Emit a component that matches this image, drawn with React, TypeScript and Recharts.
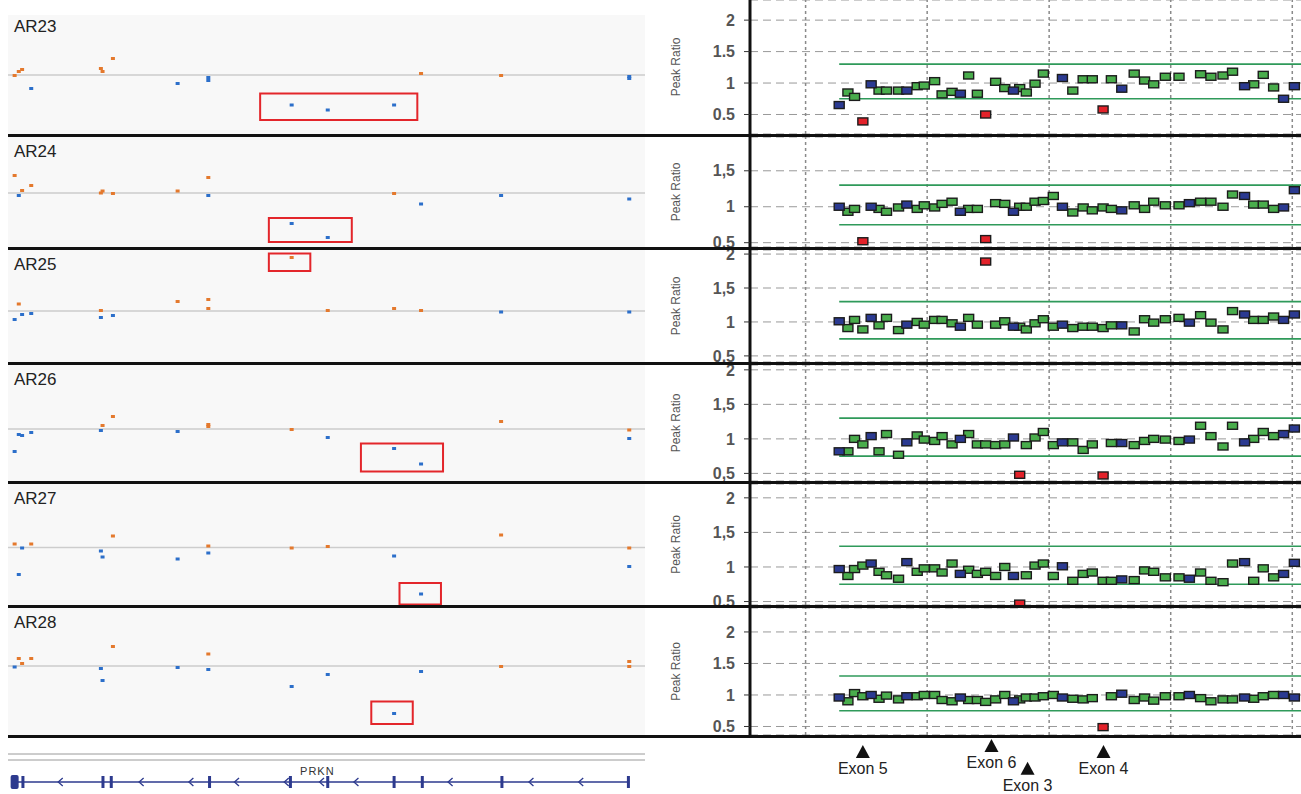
import React from "react";
import { ScatterChart, Scatter, XAxis, YAxis, CartesianGrid, ReferenceLine, ReferenceArea } from "recharts";

const samples = ["AR23", "AR24", "AR25", "AR26", "AR27", "AR28"];

// MLPA probes (position along the region, same frame for all samples)
const probePos = [456, 477, 493, 513, 533, 552, 570, 599, 619, 644, 661, 686, 704, 728, 748, 768, 789, 809, 833, 855, 876, 891, 907, 928, 948, 972, 994, 1019, 1044, 1066, 1092, 1112, 1137, 1167, 1192, 1214, 1242, 1275, 1300, 1327, 1352, 1381, 1404, 1433, 1455, 1478, 1503, 1527, 1553];
const refProbeIdx = [0, 4, 8, 14, 20, 26, 32, 38, 43, 47, 48];

const ratioAR23 = [0.65, 0.85, 0.78, 0.39, 0.98, 0.88, 0.88, 0.88, 0.88, 0.95, 0.96, 1.03, 0.82, 0.86, 0.83, 1.12, 0.83, 0.5, 1.02, 0.92, 0.88, 0.92, 0.85, 0.99, 1.15, null, 1.08, 0.88, 1.06, 1.06, 0.58, 1.06, 0.91, 1.15, 1.04, 0.98, 1.1, 1.1, null, 1.14, 1.1, 1.12, 1.18, 0.95, 0.98, 1.13, 0.93, 0.75, 0.95];
const ratioAR24 = [1.0, 0.93, 0.97, 0.52, 1.0, 0.97, 0.93, 0.99, 1.03, 0.97, 1.02, 0.99, 1.04, 1.07, 0.93, 0.97, 0.97, 0.55, 1.05, 1.04, 0.93, 1.0, 1.0, 1.07, 1.08, 1.15, 1.0, 0.92, 0.99, 0.95, 0.99, 0.97, 0.95, 1.02, 0.97, 1.07, 1.02, 1.02, 1.05, 1.07, 1.07, 1.0, 1.17, 1.15, 1.03, 1.03, 0.97, 0.99, 1.23];
const ratioAR25 = [1.01, 0.91, 1.03, 0.89, 1.06, 0.95, 1.06, 0.88, 0.96, 1.0, 0.96, 1.03, 1.03, 0.98, 0.93, 1.06, 0.96, 1.89, 0.96, 1.01, 0.93, 0.93, 0.89, 0.98, 1.04, 0.93, 0.96, 0.91, 0.93, 0.93, 0.91, 0.95, 0.95, 0.86, 1.04, 0.99, 1.04, 1.06, 0.99, 1.1, 0.99, 0.89, 1.16, 1.11, 1.03, 1.03, 1.08, 1.03, 1.11];
const ratioAR26 = [0.82, 0.82, 1.0, 0.92, 1.04, 0.82, 1.07, 0.77, 0.95, 1.05, 0.99, 0.97, 1.04, 0.92, 1.0, 1.07, 0.92, 0.92, 0.91, 0.92, 1.02, 0.48, 0.91, 1.02, 1.1, 0.91, 0.95, 0.95, 0.84, 0.92, 0.47, 0.94, 0.94, 0.91, 0.97, 1.0, 0.99, 0.97, 0.99, 1.19, 1.04, 0.89, 1.19, 0.95, 1.0, 1.1, 1.04, 1.07, 1.15];
const ratioAR27 = [0.97, 0.87, 0.97, 1.02, 1.05, 0.93, 0.88, 0.83, 1.07, 0.93, 0.98, 0.98, 0.92, 1.05, 0.9, 0.96, 0.9, 0.93, 0.87, 1.0, 0.87, 0.47, 0.88, 1.02, 1.05, 0.87, 1.01, 0.8, 0.9, 0.92, 0.8, 0.8, 0.82, 0.81, 0.95, 0.93, 0.85, 0.85, 0.83, 0.92, 0.8, 0.78, 1.05, 1.07, 0.8, 0.98, 0.85, 0.9, 1.06];
const ratioAR28 = [0.96, 0.9, 1.03, 0.98, 1.0, 0.94, 0.99, 0.93, 0.98, 0.98, 1.0, 1.0, 0.92, 0.9, 0.96, 0.92, 0.92, 0.89, 0.93, 1.0, 0.9, 0.93, 0.96, 0.96, 0.98, 1.0, 0.96, 0.94, 0.93, 0.95, 0.49, 0.98, 1.02, 0.92, 0.96, 0.91, 0.98, 0.98, 1.0, 0.95, 0.9, 0.93, 0.93, 0.96, 0.94, 0.98, 1.0, 1.0, 0.96];
const peakRatios = [ratioAR23, ratioAR24, ratioAR25, ratioAR26, ratioAR27, ratioAR28];

const ratioTicks = [0.5, 1, 1.5, 2];
const ratioGridX = [375, 668, 962, 1255, 1548];
const upperLimit = 1.3;
const lowerLimit = 0.75;
const callLow = 0.7;
const decimalSep = [".", ",", ",", ",", ",", "."];

// IGV copy-number points: [position, log ratio]
const gainAR23 = [[35, -0.01], [45, 0.07], [53, 0.11], [243, 0.13], [247, 0.07], [272, 0.33], [1015, 0.03], [1208, -0.01]];
const lossAR23 = [[75, -0.27], [428, -0.17], [502, -0.05], [502, -0.11], [703, -0.6], [790, -0.7], [950, -0.6], [1517, -0.03], [1517, -0.07]];
const gainAR24 = [[35, 0.35], [53, 0.05], [75, 0.15], [243, 0], [247, 0.04], [272, -0.01], [428, 0.04], [502, 0.31], [950, -0.01]];
const lossAR24 = [[45, -0.05], [502, -0.05], [1015, -0.22], [1208, -0.05], [1517, -0.12], [703, -0.61], [790, -0.89]];
const gainAR25 = [[45, 0.14], [243, 0.01], [428, 0.19], [502, 0.23], [502, 0.05], [703, 1.07], [790, 0.01], [950, 0.05], [1015, 0.01]];
const lossAR25 = [[35, -0.17], [53, -0.07], [75, -0.05], [243, -0.13], [272, -0.09], [1208, -0.02], [1517, -0.02]];
const gainAR26 = [[247, 0.07], [272, 0.25], [502, 0.09], [502, 0.05], [703, -0.01], [1208, 0.15], [1517, -0.02]];
const lossAR26 = [[35, -0.45], [45, -0.11], [53, -0.13], [75, -0.07], [243, -0.03], [428, -0.05], [790, -0.17], [950, -0.39], [1015, -0.7], [1517, -0.19]];
const gainAR27 = [[35, 0.07], [75, 0.07], [272, 0.23], [502, 0.03], [703, -0.01], [790, 0.02], [1208, 0.25], [1517, -0.01]];
const lossAR27 = [[53, -0.01], [45, -0.54], [243, -0.07], [247, -0.19], [428, -0.23], [502, -0.11], [950, -0.17], [1015, -0.93], [1517, -0.38]];
const gainAR28 = [[45, 0.15], [53, 0.05], [75, 0.15], [272, 0.39], [502, 0.24], [1208, -0.01], [1517, 0.09], [1517, -0.01]];
const lossAR28 = [[35, -0.02], [243, -0.05], [247, -0.29], [428, -0.03], [502, -0.07], [703, -0.41], [790, -0.17], [1015, -0.11], [950, -0.95]];
const gains = [gainAR23, gainAR24, gainAR25, gainAR26, gainAR27, gainAR28];
const losses = [lossAR23, lossAR24, lossAR25, lossAR26, lossAR27, lossAR28];

// highlighted regions: [x1, x2, y1, y2]
const calls = [[627, 1006, -0.9, -0.37], [648, 848, -0.98, -0.5], [648, 748, 0.8, 1.15], [870, 1068, -0.85, -0.29], [963, 1063, -1.14, -0.71], [895, 995, -1.16, -0.71]];

// PRKN gene model
const geneSpan = [35, 1517];
const utrExon = [35];
const exonPos = [55, 248, 268, 505, 700, 790, 950, 1018, 1210, 1515];
const strandArrows = [145, 340, 460, 570, 690, 775, 858, 1085, 1280, 1400];

const exonNames = ["Exon 5", "Exon 6", "Exon 3", "Exon 4"];
const exonMarkPos = [513, 823, 910, 1093];
const exonTier = [0, 0.5, -1.4, 0];

// layout
const rowHeights = [137, 113, 115, 119, 124, 130];
const leftDomains = [[-1.18, 1.5], [-1.08, 1.12], [-1.02, 1.22], [-1.04, 1.28], [-1.15, 1.27], [-1.38, 1.16]];
const rightDomains = [[0.19, 2.32], [0.44, 1.97], [0.41, 2.06], [0.39, 2.07], [0.45, 2.2], [0.365, 2.38]];
const igvDomain = [19, 1555];
const ratioDomain = [241, 1569];

const FONT = "'Liberation Sans', Arial, Helvetica, sans-serif";
const NAVY = "#2d3a8e";

const square = (fill: string) => (p: any) => {
  if (p.cx == null || p.cy == null) return <g />;
  return <rect x={p.cx - 5} y={p.cy - 3.5} width={10} height={7} fill={fill} stroke="#1c1c1c" strokeWidth={1.4} />;
};

const tinyDot = (fill: string) => (p: any) => <rect x={p.cx - 2} y={p.cy - 1.5} width={4} height={3} fill={fill} />;

function RatioPanel({ i, height }: { i: number; height: number }) {
  const [lo, hi] = rightDomains[i];
  const pts = probePos
    .map((x, k) => ({ x, y: peakRatios[i][k], k }))
    .filter((p) => p.y != null) as { x: number; y: number; k: number }[];
  const isRef = (p: any) => refProbeIdx.includes(p.k);
  const isCall = (p: any) => p.y < callLow || p.y > upperLimit;
  const refs = pts.filter(isRef);
  const normal = pts.filter((p) => !isRef(p) && !isCall(p));
  const abnormal = pts.filter((p) => !isRef(p) && isCall(p));
  const ticks = ratioTicks.filter((t) => t >= lo && t <= hi);
  return (
    <ScatterChart width={651} height={height} margin={{ top: 0, right: 0, bottom: 0, left: 0 }}>
      <CartesianGrid vertical={false} stroke="#999" strokeDasharray="8 5" />
      <XAxis type="number" dataKey="x" domain={ratioDomain} hide allowDataOverflow />
      <YAxis
        type="number"
        dataKey="y"
        domain={[lo, hi]}
        ticks={ticks}
        interval={0}
        allowDataOverflow
        width={100}
        axisLine={{ stroke: "#111", strokeWidth: 3 }}
        tickLine={{ stroke: "#333" }}
        tickSize={6}
        tickMargin={9}
        tick={{ fontSize: 16, fontWeight: 700, fill: "#555", fontFamily: FONT }}
        tickFormatter={(v: number) => String(v).replace(".", decimalSep[i])}
        label={{ value: "Peak Ratio", angle: -90, position: "insideLeft", offset: 26, style: { textAnchor: "middle", fontSize: 12, fill: "#555", fontFamily: FONT } }}
      />
      {ratioGridX.map((x) => (
        <ReferenceLine key={x} x={x} stroke="#8a8a8a" strokeDasharray="3 3" strokeWidth={1.5} />
      ))}
      <ReferenceLine segment={[{ x: probePos[0], y: upperLimit }, { x: ratioDomain[1], y: upperLimit }]} stroke="#2f9a5a" strokeWidth={1.6} />
      <ReferenceLine segment={[{ x: probePos[0], y: lowerLimit }, { x: ratioDomain[1], y: lowerLimit }]} stroke="#2f9a5a" strokeWidth={1.6} />
      <Scatter data={normal} shape={square("#49ad4c")} isAnimationActive={false} />
      <Scatter data={refs} shape={square("#2b3a91")} isAnimationActive={false} />
      <Scatter data={abnormal} shape={square("#e3222a")} isAnimationActive={false} />
    </ScatterChart>
  );
}

function CopyPanel({ i, height }: { i: number; height: number }) {
  const [x1, x2, y1, y2] = calls[i];
  const g = gains[i].map(([x, y]) => ({ x, y }));
  const l = losses[i].map(([x, y]) => ({ x, y }));
  return (
    <ScatterChart width={637} height={height} margin={{ top: 0, right: 0, bottom: 0, left: 0 }}>
      <XAxis type="number" dataKey="x" domain={igvDomain} hide allowDataOverflow />
      <YAxis type="number" dataKey="y" domain={leftDomains[i]} hide allowDataOverflow />
      <ReferenceLine y={0} stroke="#cdcdcd" strokeWidth={1.5} />
      <ReferenceArea x1={x1} x2={x2} y1={y1} y2={y2} fill="none" stroke="#e3262b" strokeWidth={2} ifOverflow="visible" />
      <Scatter data={g} shape={tinyDot("#e4792d")} isAnimationActive={false} />
      <Scatter data={l} shape={tinyDot("#2c6fca")} isAnimationActive={false} />
    </ScatterChart>
  );
}

function GeneTrack() {
  const exons = exonPos.map((x) => ({ x, y: 0 }));
  const utr = utrExon.map((x) => ({ x, y: 0 }));
  const arrows = strandArrows.map((x) => ({ x, y: 0 }));
  const name = [{ x: 765, y: 11 }];
  return (
    <ScatterChart width={637} height={56} margin={{ top: 0, right: 0, bottom: 0, left: 0 }}>
      <XAxis type="number" dataKey="x" domain={igvDomain} hide allowDataOverflow />
      <YAxis type="number" dataKey="y" domain={[-12, 44]} hide allowDataOverflow />
      <ReferenceLine y={28} stroke="#9a9a9a" strokeWidth={1} />
      <ReferenceLine y={22} stroke="#9a9a9a" strokeWidth={1} />
      <ReferenceLine segment={[{ x: geneSpan[0], y: 0 }, { x: geneSpan[1], y: 0 }]} stroke={NAVY} strokeWidth={1.5} />
      <Scatter data={exons} isAnimationActive={false} shape={(p: any) => <rect x={p.cx - 1.5} y={p.cy - 6} width={3} height={12} fill={NAVY} />} />
      <Scatter data={utr} isAnimationActive={false} shape={(p: any) => <rect x={p.cx - 4} y={p.cy - 7} width={8} height={14} rx={2} fill={NAVY} />} />
      <Scatter
        data={arrows}
        isAnimationActive={false}
        shape={(p: any) => <path d={`M${p.cx + 2.5},${p.cy - 4} L${p.cx - 2},${p.cy} L${p.cx + 2.5},${p.cy + 4}`} fill="none" stroke={NAVY} strokeWidth={1.3} />}
      />
      <Scatter
        data={name}
        isAnimationActive={false}
        shape={(p: any) => (
          <text x={p.cx} y={p.cy + 4} textAnchor="middle" fontSize={11} letterSpacing={1} fill="#333" fontFamily={FONT}>
            PRKN
          </text>
        )}
      />
    </ScatterChart>
  );
}

function ExonMarks() {
  const data = exonNames.map((name, k) => ({ name, x: exonMarkPos[k], y: exonTier[k] }));
  return (
    <ScatterChart width={651} height={56} margin={{ top: 0, right: 0, bottom: 0, left: 100 }}>
      <XAxis type="number" dataKey="x" domain={ratioDomain} hide allowDataOverflow />
      <YAxis type="number" dataKey="y" domain={[-4.17, 0.5]} hide allowDataOverflow />
      <Scatter
        data={data}
        isAnimationActive={false}
        shape={(p: any) => (
          <g>
            <path d={`M${p.cx},${p.cy + 1} L${p.cx + 7},${p.cy + 14} L${p.cx - 7},${p.cy + 14} Z`} fill="#111" />
            <text x={p.cx} y={p.cy + 30} textAnchor="middle" fontSize={16} fill="#222" fontFamily={FONT}>
              {p.payload.name}
            </text>
          </g>
        )}
      />
    </ScatterChart>
  );
}

export default function App() {
  return (
    <div style={{ width: 1301, height: 794, background: "#fff", position: "relative", overflow: "hidden" }}>
      <style>{`body{margin:0;}`}</style>
      {samples.map((s, i) => {
        const h = rowHeights[i];
        return (
          <div key={s} style={{ height: h }}>
            <div style={{ display: "flex", height: h - 3 }}>
              <div
                style={{
                  marginLeft: 8,
                  width: 637,
                  height: h - 3,
                  position: "relative",
                  background: i === 0 ? "linear-gradient(#fff 0 15px, #f8f8f8 15px)" : "#f8f8f8",
                }}
              >
                <CopyPanel i={i} height={h - 3} />
                <div style={{ position: "absolute", left: 6, top: i === 0 ? 17 : 5, fontSize: 17, color: "#222", fontFamily: FONT }}>{s}</div>
              </div>
              <div style={{ marginLeft: 5, width: 651, height: h - 3 }}>
                <RatioPanel i={i} height={h - 3} />
              </div>
            </div>
            <div style={{ marginLeft: 8, width: 1293, height: 3, background: "#111" }} />
          </div>
        );
      })}
      <div style={{ display: "flex", height: 56 }}>
        <div style={{ marginLeft: 8, width: 637 }}>
          <GeneTrack />
        </div>
        <div style={{ marginLeft: 5, width: 651 }}>
          <ExonMarks />
        </div>
      </div>
    </div>
  );
}
